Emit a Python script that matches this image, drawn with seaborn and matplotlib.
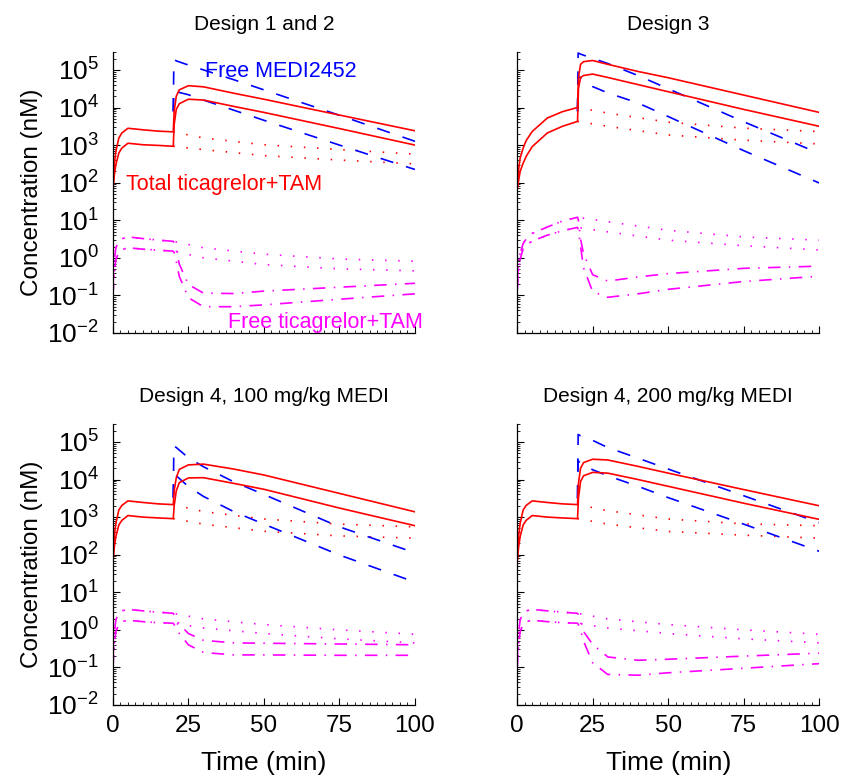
import numpy as np
import matplotlib
matplotlib.use("Agg")
import matplotlib.pyplot as plt
import seaborn as sns
from matplotlib.ticker import MultipleLocator, LogLocator, NullFormatter

# ---------------------------------------------------------------
# DATA (nM)
# ---------------------------------------------------------------
TITLES = ["Design 1 and 2", "Design 3",
          "Design 4, 100 mg/kg MEDI", "Design 4, 200 mg/kg MEDI"]

# time grids (min)
T_FULL = [0, 0.5, 1, 2, 3, 5, 10, 15, 20, 20.3, 21, 22, 25, 30, 40, 50, 75, 100]
T_CTRL = [20, 30, 50, 75, 100]
T_FREE_CTRL = [0, 0.5, 1, 2, 3, 5, 10, 15, 20, 30, 50, 75, 100]
T_MEDI = [20, 20.2, 21, 25, 30, 40, 50, 75, 100]

# total ticagrelor+TAM with MEDI2452 (solid red), one row per panel
TOTAL_HI = [
    [60, 320, 680, 1550, 2100, 2800, 2550, 2350, 2250, 7900, 20000, 29500, 38000, 35500, 24000, 16600, 6300, 2400],
    [63, 224, 450, 830, 1320, 2300, 5250, 7750, 10000, 63000, 141000, 166000, 178000, 141000, 91000, 62000, 21400, 7400],
    [60, 320, 680, 1550, 2050, 2700, 2450, 2250, 2150, 5000, 11200, 18600, 24500, 25700, 19000, 13200, 4270, 1380],
    [60, 320, 680, 1550, 2050, 2700, 2450, 2250, 2150, 7900, 20000, 28200, 34700, 33100, 22400, 14800, 5400, 2000],
]
TOTAL_LO = [
    [60, 160, 300, 620, 830, 1120, 1020, 980, 930, 3550, 8900, 12600, 16600, 15800, 10700, 7400, 2750, 1000],
    [63, 112, 200, 330, 500, 910, 2100, 3160, 4270, 31600, 63000, 71000, 77600, 63000, 40700, 26300, 8900, 3160],
    [60, 160, 300, 620, 820, 1100, 1000, 950, 910, 2000, 5000, 8300, 11000, 11200, 7900, 5500, 1740, 590],
    [60, 160, 300, 620, 820, 1100, 1000, 950, 910, 3160, 8900, 12600, 15500, 14800, 10000, 6600, 2340, 870],
]

# total without MEDI2452 (dotted red)
TOTAL_CTRL_HI = [
    [2250, 1550, 1020, 760, 575],
    [10000, 7100, 4070, 2820, 2290],
    [2150, 1400, 890, 650, 550],
    [2150, 1480, 890, 660, 590],
]
TOTAL_CTRL_LO = [
    [930, 760, 525, 400, 316],
    [4270, 3160, 1860, 1350, 1070],
    [910, 650, 420, 316, 275],
    [910, 650, 415, 330, 275],
]

# free MEDI2452 (dashed blue)
MEDI_HI = [
    [7900, 190000, 174000, 135000, 100000, 55000, 29500, 6200, 1260],
    [7900, 282000, 263000, 204000, 148000, 71000, 31600, 4170, 600],
    [3300, 79000, 71000, 38000, 21900, 8700, 4000, 550, 112],
    [3160, 158000, 145000, 110000, 71000, 37000, 19000, 3700, 710],
]
MEDI_LO = [
    [7900, 30000, 26300, 21900, 15800, 8500, 4570, 1000, 224],
    [7900, 70000, 60000, 36000, 24500, 13200, 5750, 710, 98],
    [3300, 14100, 12600, 6500, 3550, 1400, 650, 98, 18.6],
    [3160, 31600, 27000, 18200, 12600, 6600, 3300, 650, 123],
]

# free ticagrelor+TAM with MEDI2452 (dash-dot magenta)
FREE_HI = [
    [0.16, 0.8, 1.86, 2.75, 3.2, 3.6, 3.25, 2.95, 2.75, 2.5, 1.6, 0.68, 0.195, 0.115, 0.112, 0.13, 0.165, 0.21],
    [0.24, 0.7, 1.32, 2.4, 3.16, 4.47, 6.6, 9.5, 12, 10, 3.16, 1.26, 0.355, 0.24, 0.31, 0.38, 0.525, 0.6],
    [0.16, 0.8, 1.86, 2.75, 3.2, 3.5, 3.2, 2.95, 2.75, 2.5, 2.0, 1.41, 0.8, 0.525, 0.45, 0.44, 0.42, 0.4],
    [0.16, 0.8, 1.86, 2.75, 3.2, 3.5, 3.2, 2.95, 2.75, 2.5, 1.58, 0.9, 0.41, 0.19, 0.155, 0.165, 0.2, 0.24],
]
FREE_LO = [
    [0.087, 0.4, 0.9, 1.4, 1.65, 1.85, 1.7, 1.6, 1.5, 1.38, 0.8, 0.32, 0.087, 0.05, 0.05, 0.056, 0.079, 0.11],
    [0.13, 0.4, 0.9, 1.78, 2.14, 2.8, 4.0, 5.25, 6.45, 5.25, 2.0, 0.54, 0.126, 0.089, 0.11, 0.145, 0.234, 0.324],
    [0.087, 0.4, 0.9, 1.4, 1.65, 1.8, 1.65, 1.55, 1.5, 1.38, 1.12, 0.8, 0.4, 0.25, 0.215, 0.215, 0.21, 0.21],
    [0.087, 0.4, 0.9, 1.4, 1.65, 1.8, 1.65, 1.55, 1.5, 1.38, 1.0, 0.5, 0.132, 0.065, 0.062, 0.072, 0.095, 0.126],
]

# free ticagrelor+TAM without MEDI2452 (dotted magenta), 20..100 min part
FREE_CTRL_HI = [
    [2.75, 1.85, 1.25, 0.93, 0.81],
    [12, 9.1, 5.4, 3.6, 2.95],
    [2.75, 1.95, 1.38, 1.0, 0.76],
    [2.75, 1.95, 1.38, 1.0, 0.76],
]
FREE_CTRL_LO = [
    [1.5, 1.0, 0.66, 0.51, 0.45],
    [6.45, 4.9, 2.95, 2.1, 1.62],
    [1.5, 1.12, 0.8, 0.575, 0.45],
    [1.5, 1.12, 0.8, 0.575, 0.45],
]

RED, BLUE, MAGENTA = "#ff0000", "#0000ff", "#ff00ff"
LW = 1.2
DOTTED = (0, (0.9, 7))
DASHED = (0, (8, 8))
DASHDOT = (0, (7.5, 5, 0.9, 5))

sns.set_style("ticks")
plt.rcParams["font.family"] = ["Liberation Sans", "DejaVu Sans"]
plt.rcParams["mathtext.fontset"] = "custom"
plt.rcParams["mathtext.rm"] = "Liberation Sans"
plt.rcParams["mathtext.it"] = "Liberation Sans:italic"
for key in ("text.color", "axes.labelcolor", "xtick.color", "ytick.color"):
    plt.rcParams[key] = "black"

fig, axes = plt.subplots(2, 2, figsize=(8.42, 7.76), dpi=100)
fig.subplots_adjust(left=0.134, right=0.973, top=0.933, bottom=0.0915,
                    wspace=0.338, hspace=0.324)


def line(ax, t, c, color, ls):
    sns.lineplot(x=t, y=c, ax=ax, color=color, linestyle=ls, lw=LW,
                 estimator=None, sort=False)


for i, ax in enumerate(axes.flat):
    ax.set_yscale("log")
    pre_hi = FREE_HI[i][:9]
    pre_lo = FREE_LO[i][:9]

    # controls (no MEDI2452)
    line(ax, T_CTRL, TOTAL_CTRL_HI[i], RED, DOTTED)
    line(ax, T_CTRL, TOTAL_CTRL_LO[i], RED, DOTTED)
    line(ax, T_FREE_CTRL, pre_hi + FREE_CTRL_HI[i][1:], MAGENTA, DOTTED)
    line(ax, T_FREE_CTRL, pre_lo + FREE_CTRL_LO[i][1:], MAGENTA, DOTTED)

    # with MEDI2452
    line(ax, T_MEDI, MEDI_HI[i], BLUE, DASHED)
    line(ax, T_MEDI, MEDI_LO[i], BLUE, DASHED)
    line(ax, T_FULL, FREE_HI[i], MAGENTA, DASHDOT)
    line(ax, T_FULL, FREE_LO[i], MAGENTA, DASHDOT)
    line(ax, T_FULL, TOTAL_HI[i], RED, "-")
    line(ax, T_FULL, TOTAL_LO[i], RED, "-")

    ax.set_xlim(0, 100)
    ax.set_ylim(1e-2, 3e5)
    ax.set_xticks([0, 25, 50, 75, 100])
    ax.xaxis.set_minor_locator(MultipleLocator(2.5))
    ax.set_yticks([10.0 ** k for k in range(-2, 6)])
    ax.yaxis.set_minor_locator(LogLocator(base=10, subs=np.arange(2, 10), numticks=20))
    ax.yaxis.set_minor_formatter(NullFormatter())
    ax.tick_params(which="major", direction="in", length=5, width=0.8, color="black")
    ax.tick_params(which="minor", direction="in", length=2.5, width=0.6, color="black")
    ax.tick_params(axis="x", which="major", labelsize=17.5, pad=7)
    ax.tick_params(axis="y", which="major", labelsize=19, pad=10)
    for s in ("left", "bottom"):
        ax.spines[s].set_color("black")
        ax.spines[s].set_linewidth(0.9)
    sns.despine(ax=ax)
    ax.set_title(TITLES[i], fontsize=15, pad=16)

    if i % 2 == 0:
        ax.set_ylabel("Concentration (nM)", fontsize=17.5, labelpad=3)
    else:
        ax.set_ylabel("")
        ax.tick_params(axis="y", labelleft=False)
    if i >= 2:
        ax.set_xlabel("Time (min)", fontsize=19, labelpad=10)
    else:
        ax.set_xlabel("")
        ax.tick_params(axis="x", labelbottom=False)

ax0 = axes[0, 0]
ax0.text(30.5, 9.0e4, "Free MEDI2452", color=BLUE, fontsize=15.5, va="center")
ax0.text(4.3, 90, "Total ticagrelor+TAM", color=RED, fontsize=15.5, va="center")
ax0.text(38, 0.019, "Free ticagrelor+TAM", color=MAGENTA, fontsize=15.5,
         va="center", clip_on=False)

fig.savefig("out.png", dpi=100)
